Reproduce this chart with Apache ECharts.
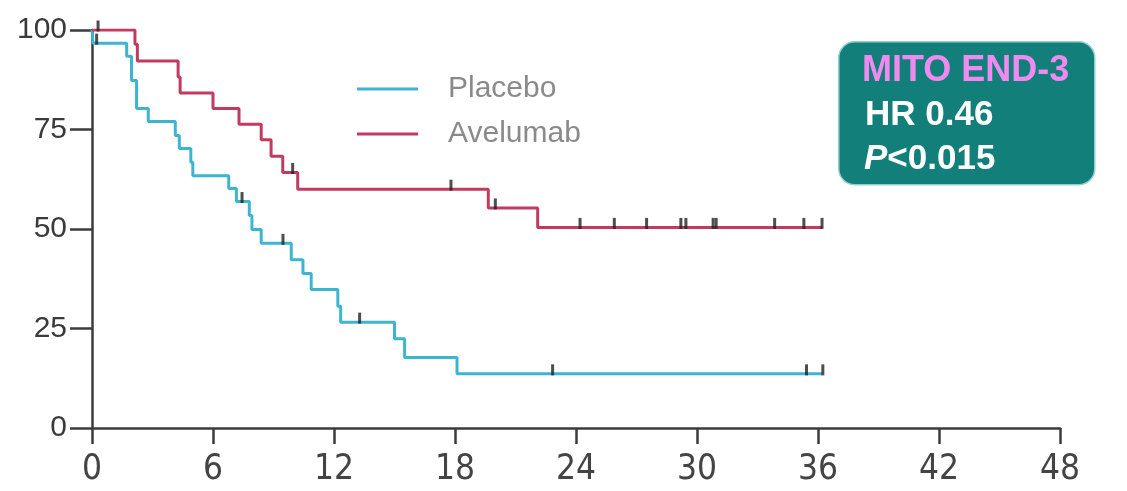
<!DOCTYPE html>
<html>
<head>
<meta charset="utf-8">
<style>
  html, body { margin: 0; padding: 0; background: #ffffff; }
  #chart { width: 1127px; height: 491px; }
</style>
<script src="https://cdn.jsdelivr.net/npm/echarts@6/dist/echarts.min.js"></script>
</head>
<body>
<div id="chart"></div>
<script>
// Kaplan-Meier survival estimates: [month, survival %] at each event time
const placeboSteps = [
  [0, 100], [0.05, 96.7], [1.72, 93.4], [1.96, 87.3], [2.21, 80.3], [2.79, 77.0],
  [4.13, 73.5], [4.33, 70.2], [4.9, 66.8], [5.0, 63.4], [6.78, 60.2], [7.16, 56.9],
  [7.8, 53.4], [7.93, 49.9], [8.39, 46.4], [9.88, 42.3], [10.46, 38.8], [10.87, 34.8],
  [12.19, 30.6], [12.33, 26.6], [15.0, 22.4], [15.5, 17.7], [18.1, 13.6], [36.2, 13.6]
];
const avelumabSteps = [
  [0, 100], [2.13, 96.4], [2.25, 92.2], [4.27, 88.2], [4.37, 84.2], [6.0, 80.3],
  [7.29, 76.3], [8.39, 72.4], [8.88, 68.3], [9.46, 64.2], [10.2, 60.0],
  [19.65, 55.3], [22.1, 50.4], [36.2, 50.4]
];

// Censored observations
const placeboCensored = [
  [0.23, 96.7], [7.44, 56.9], [9.47, 46.4], [13.27, 26.6],
  [22.84, 13.6], [35.43, 13.6], [36.24, 13.6]
];
const avelumabCensored = [
  [0.3, 100], [9.95, 64.2], [17.8, 60.0], [20.0, 55.3],
  [24.2, 50.4], [25.9, 50.4], [27.5, 50.4], [29.2, 50.4], [29.45, 50.4],
  [30.8, 50.4], [30.95, 50.4], [33.85, 50.4], [35.3, 50.4], [36.2, 50.4]
];

const seriesNames = ['Placebo', 'Avelumab'];
const xTicks = { min: 0, max: 48, interval: 6 };
const yTicks = { min: 0, max: 100, interval: 25 };
const studyLines = ['MITO END-3', 'HR 0.46', '<0.015'];

const BLUE = '#3db5d0';
const RED = '#c33a60';
const AXIS = '#3c3c3c';
const SANS = '"Liberation Sans", Arial, sans-serif';

const chart = echarts.init(document.getElementById('chart'));

const censorStyle = {
  type: 'scatter',
  symbol: 'rect',
  symbolSize: [3, 11],
  symbolOffset: [0, -4],
  itemStyle: { color: '#222222' },
  silent: true,
  z: 5
};

chart.setOption({
  animation: false,
  grid: { left: 92, right: 67, top: 30, bottom: 63 },
  legend: {
    data: seriesNames,
    orient: 'vertical',
    left: 352,
    top: 69,
    itemWidth: 61,
    itemHeight: 3,
    itemGap: 15,
    icon: 'rect',
    textStyle: {
      fontFamily: SANS,
      fontSize: 30,
      lineHeight: 30,
      color: '#8a8a8a',
      padding: [0, 0, 0, 25]
    }
  },
  xAxis: {
    type: 'value',
    min: xTicks.min,
    max: xTicks.max,
    interval: xTicks.interval,
    splitLine: { show: false },
    axisLine: { show: true, onZero: false, lineStyle: { color: AXIS, width: 2.5 } },
    axisTick: { show: true, length: 16, lineStyle: { color: AXIS, width: 2.5 } },
    axisLabel: {
      margin: 24,
      fontFamily: '"Liberation Sans Narrow", "DejaVu Sans Condensed", sans-serif',
      fontSize: 35,
      color: '#444444'
    }
  },
  yAxis: {
    type: 'value',
    min: yTicks.min,
    max: yTicks.max,
    interval: yTicks.interval,
    splitLine: { show: false },
    axisLine: { show: true, onZero: false, lineStyle: { color: AXIS, width: 2.5 } },
    axisTick: { show: true, length: 22, lineStyle: { color: AXIS, width: 2.5 } },
    axisLabel: {
      margin: 25,
      fontFamily: SANS,
      fontSize: 30,
      color: '#3a3a3a'
    }
  },
  series: [
    {
      name: seriesNames[0],
      type: 'line',
      step: 'end',
      data: placeboSteps,
      showSymbol: false,
      color: BLUE,
      lineStyle: { color: BLUE, width: 3 },
      z: 3
    },
    {
      name: seriesNames[1],
      type: 'line',
      step: 'end',
      data: avelumabSteps,
      showSymbol: false,
      color: RED,
      lineStyle: { color: RED, width: 3 },
      z: 3
    },
    Object.assign({ name: 'placebo-censored', data: placeboCensored }, censorStyle),
    Object.assign({ name: 'avelumab-censored', data: avelumabCensored }, censorStyle)
  ],
  graphic: [
    {
      type: 'rect',
      left: 838,
      top: 41,
      shape: { width: 256, height: 143, r: 16 },
      style: { fill: '#127f7b', stroke: '#8fd2cd', lineWidth: 1.5 },
      z: 10
    },
    {
      type: 'text',
      left: 862,
      top: 53,
      style: {
        text: studyLines[0],
        fill: '#ef8aef',
        font: 'bold 36px ' + SANS
      },
      z: 11
    },
    {
      type: 'text',
      left: 865,
      top: 98,
      style: {
        text: studyLines[1],
        fill: '#ffffff',
        font: 'bold 35px ' + SANS
      },
      z: 11
    },
    {
      type: 'text',
      left: 864,
      top: 142,
      style: {
        text: '{p|P}{v|' + studyLines[2] + '}',
        rich: {
          p: { fill: '#ffffff', fontStyle: 'italic', fontWeight: 'bold', fontSize: 35, fontFamily: SANS },
          v: { fill: '#ffffff', fontWeight: 'bold', fontSize: 35, fontFamily: SANS }
        }
      },
      z: 11
    }
  ]
});
</script>
</body>
</html>
